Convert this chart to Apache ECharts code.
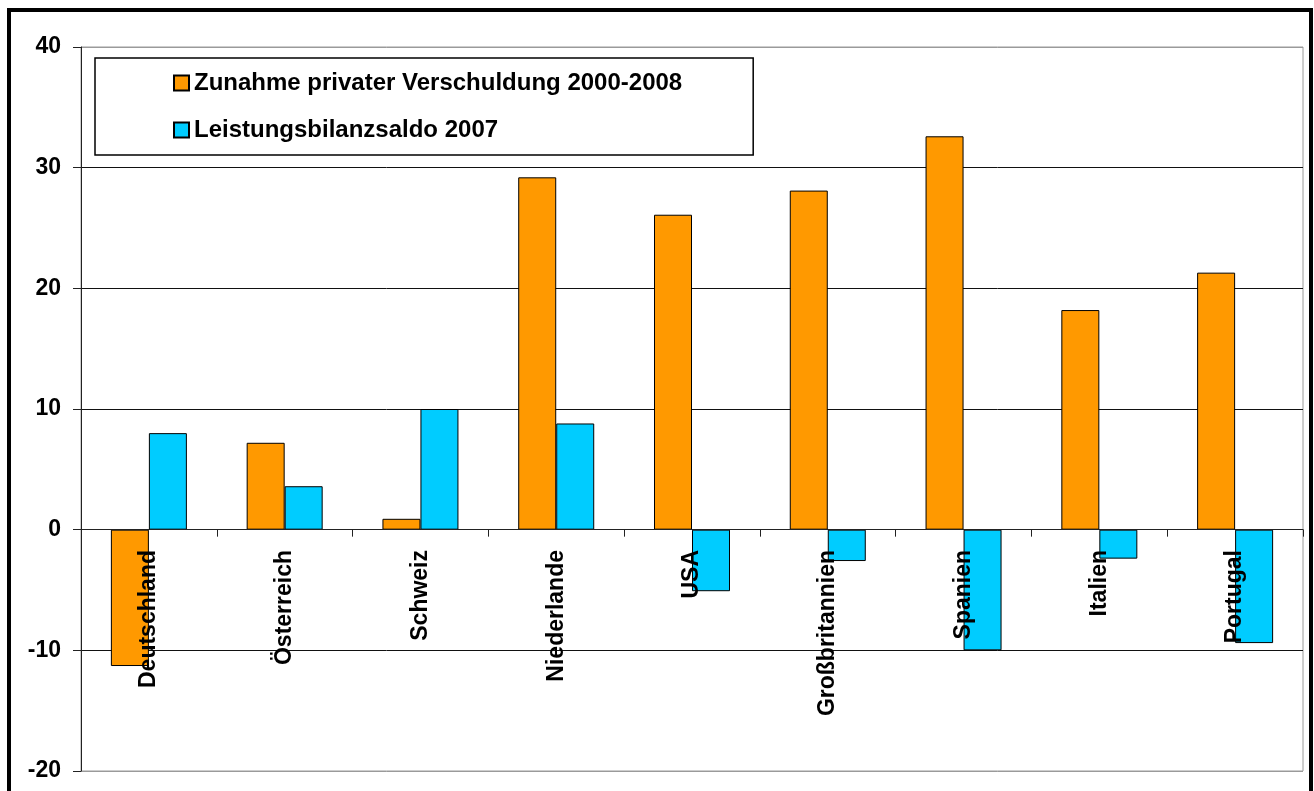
<!DOCTYPE html>
<html>
<head>
<meta charset="utf-8">
<script src="https://cdn.jsdelivr.net/npm/echarts@6/dist/echarts.min.js"></script>
<style>
html,body{margin:0;padding:0;background:#fff;}
#chart{width:1314px;height:791px;}
</style>
</head>
<body>
<div id="chart"></div>
<script>
const categories = ['Deutschland','Österreich','Schweiz','Niederlande','USA','Großbritannien','Spanien','Italien','Portugal'];
const seriesNames = ['Zunahme privater Verschuldung 2000-2008','Leistungsbilanzsaldo 2007'];
const privateDebt = [-11.3, 7.2, 0.9, 29.2, 26.1, 28.1, 32.6, 18.2, 21.3];
const currentAccount = [8.0, 3.6, 10.0, 8.8, -5.1, -2.6, -10.0, -2.4, -9.4];

const FONT = '"Liberation Sans", Arial, sans-serif';
const chart = echarts.init(document.getElementById('chart'));
chart.setOption({
  animation: false,
  backgroundColor: '#fff',
  textStyle: { fontFamily: FONT },
  graphic: [{
    type: 'rect', z: 100, silent: true,
    shape: { x: 9, y: 10, width: 1302, height: 900 },
    style: { fill: 'none', stroke: '#000', lineWidth: 4 }
  }],
  grid: {
    left: 81, right: 11, top: 47, bottom: 20,
    containLabel: false, outerBoundsMode: 'none',
    show: true, borderColor: '#9a9a9a', borderWidth: 1, backgroundColor: 'transparent'
  },
  legend: {
    orient: 'vertical',
    left: 95, top: 58,
    padding: [13, 71, 13, 78],
    itemGap: 23,
    itemWidth: 15, itemHeight: 15,
    itemTextGap: 8,
    backgroundColor: '#fff',
    borderColor: '#000', borderWidth: 1.5,
    icon: 'rect',
    textStyle: { fontFamily: FONT, fontSize: 24, fontWeight: 'bold', color: '#000' },
    data: seriesNames
  },
  xAxis: {
    type: 'category',
    data: categories,
    z: 10,
    axisLine: { onZero: true, lineStyle: { color: '#222', width: 1 } },
    axisTick: { show: true, interval: 0, length: 7, lineStyle: { color: '#222' } },
    axisLabel: {
      interval: 0, rotate: 90, margin: -221, hideOverlap: false,
      fontFamily: FONT, fontSize: 23, fontWeight: 'bold', color: '#000'
    },
    splitLine: { show: false }
  },
  yAxis: {
    type: 'value',
    min: -20, max: 40, interval: 10,
    axisLine: { show: true, lineStyle: { color: '#222', width: 1 } },
    axisTick: { show: true, length: 8, lineStyle: { color: '#222' } },
    axisLabel: { margin: 20, fontFamily: FONT, fontSize: 23, fontWeight: 'bold', color: '#000' },
    splitLine: { show: true, lineStyle: { color: ['#9a9a9a','#111','#111','#111','#111','#111','#9a9a9a'], width: 1 } }
  },
  series: [
    {
      name: seriesNames[0], type: 'bar', data: privateDebt,
      barWidth: 38, barGap: '0%',
      itemStyle: { color: '#FF9900', borderColor: '#000', borderWidth: 1 }
    },
    {
      name: seriesNames[1], type: 'bar', data: currentAccount,
      barWidth: 38, barGap: '0%',
      itemStyle: { color: '#00CCFF', borderColor: '#000', borderWidth: 1 }
    }
  ]
});
</script>
</body>
</html>
